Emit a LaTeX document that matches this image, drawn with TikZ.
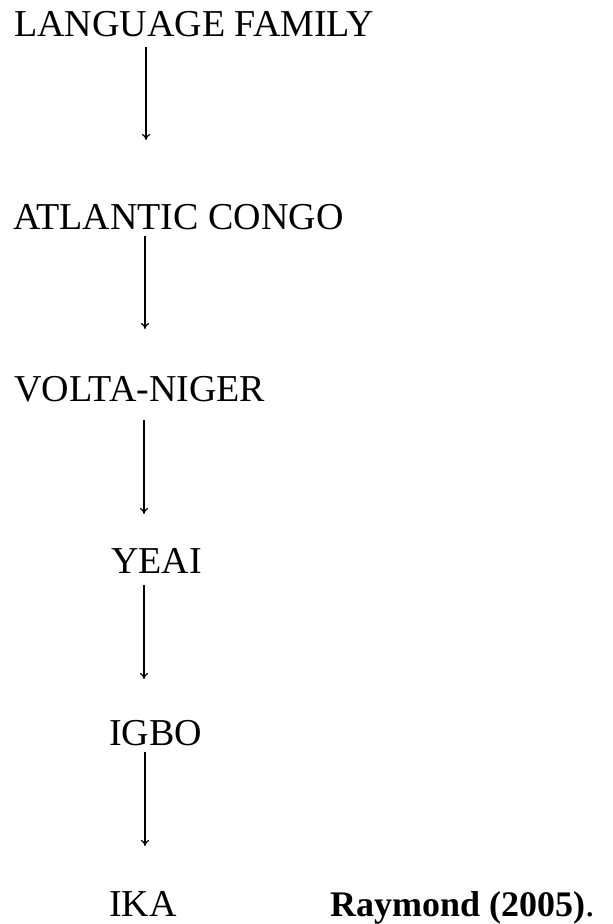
\documentclass[tikz,border=0pt]{standalone}
\usepackage{fontspec}
\setmainfont{Liberation Serif}
\usetikzlibrary{arrows.meta}
\begin{document}
\begin{tikzpicture}[x=1pt,y=1pt,
  lbl/.style={anchor=base west,inner sep=0pt,font=\fontsize{38}{40}\selectfont},
  conn/.style={line width=1.2pt,-{To[length=6pt,width=8pt]}}]
\useasboundingbox (0,0) rectangle (613,-924);
\node[lbl] (lang) at (14,-36) {LANGUAGE FAMILY};
\node[lbl] (atl) at (13,-229) {ATLANTIC CONGO};
\node[lbl] (volta) at (14,-401) {VOLTA-NIGER};
\node[lbl] (yeai) at (111,-573) {YEAI};
\node[lbl] (igbo) at (109,-745) {IGBO};
\node[lbl] (ika) at (109,-916) {IKA};
\node[lbl,font=\fontsize{36}{40}\selectfont\bfseries] (ref) at (330,-916) {Raymond (2005)};
\node[lbl,anchor=base west] (dot) at (ref.base east) {.};
\coordinate (s1) at (146,-47);  \coordinate (e1) at (146,-140);
\coordinate (s2) at (145,-236); \coordinate (e2) at (145,-329);
\coordinate (s3) at (144,-420); \coordinate (e3) at (144,-514);
\coordinate (s4) at (144,-585); \coordinate (e4) at (144,-679);
\coordinate (s5) at (145,-752); \coordinate (e5) at (145,-846);
\draw[conn] (s1) -- (e1);
\draw[conn] (s2) -- (e2);
\draw[conn] (s3) -- (e3);
\draw[conn] (s4) -- (e4);
\draw[conn] (s5) -- (e5);
\end{tikzpicture}
\end{document}
